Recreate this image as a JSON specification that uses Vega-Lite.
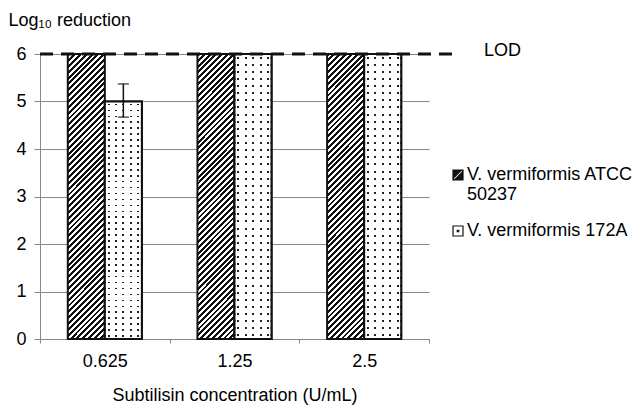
{
  "$schema": "https://vega.github.io/schema/vega-lite/v6.json",
  "width": 389,
  "height": 285,
  "autosize": {"type": "none"},
  "padding": {"left": 40, "top": 54, "right": 205, "bottom": 67},
  "config": {
    "font": "Liberation Sans",
    "view": {"stroke": null},
    "axis": {"labelFontSize": 18, "titleFontSize": 18, "titleFontWeight": "normal", "labelColor": "#000", "titleColor": "#000"}
  },
  "data": {"values": [
    {"conc": "0.625", "strain": "V. vermiformis ATCC 50237", "value": 6},
    {"conc": "0.625", "strain": "V. vermiformis 172A", "value": 5, "lo": 4.67, "hi": 5.37},
    {"conc": "1.25", "strain": "V. vermiformis ATCC 50237", "value": 6},
    {"conc": "1.25", "strain": "V. vermiformis 172A", "value": 6},
    {"conc": "2.5", "strain": "V. vermiformis ATCC 50237", "value": 6},
    {"conc": "2.5", "strain": "V. vermiformis 172A", "value": 6}
  ]},
  "layer": [
    {
      "transform": [{"filter": "datum.strain === 'V. vermiformis ATCC 50237'"}],
      "mark": {"type": "bar", "stroke": "#111", "strokeWidth": 2, "fill": {"gradient": "linear", "x1": 0, "y1": 0, "x2": 0.146, "y2": 1.12, "stops": [
              {"offset":0,"color":"#111"},
              {"offset":0.009,"color":"#111"},{"offset":0.009,"color":"#fff"},
              {"offset":0.018,"color":"#fff"},{"offset":0.018,"color":"#111"},
              {"offset":0.027,"color":"#111"},{"offset":0.027,"color":"#fff"},
              {"offset":0.036,"color":"#fff"},{"offset":0.036,"color":"#111"},
              {"offset":0.045,"color":"#111"},{"offset":0.045,"color":"#fff"},
              {"offset":0.054,"color":"#fff"},{"offset":0.054,"color":"#111"},
              {"offset":0.063,"color":"#111"},{"offset":0.063,"color":"#fff"},
              {"offset":0.072,"color":"#fff"},{"offset":0.072,"color":"#111"},
              {"offset":0.081,"color":"#111"},{"offset":0.081,"color":"#fff"},
              {"offset":0.09,"color":"#fff"},{"offset":0.09,"color":"#111"},
              {"offset":0.099,"color":"#111"},{"offset":0.099,"color":"#fff"},
              {"offset":0.108,"color":"#fff"},{"offset":0.108,"color":"#111"},
              {"offset":0.117,"color":"#111"},{"offset":0.117,"color":"#fff"},
              {"offset":0.126,"color":"#fff"},{"offset":0.126,"color":"#111"},
              {"offset":0.135,"color":"#111"},{"offset":0.135,"color":"#fff"},
              {"offset":0.144,"color":"#fff"},{"offset":0.144,"color":"#111"},
              {"offset":0.153,"color":"#111"},{"offset":0.153,"color":"#fff"},
              {"offset":0.162,"color":"#fff"},{"offset":0.162,"color":"#111"},
              {"offset":0.171,"color":"#111"},{"offset":0.171,"color":"#fff"},
              {"offset":0.18,"color":"#fff"},{"offset":0.18,"color":"#111"},
              {"offset":0.189,"color":"#111"},{"offset":0.189,"color":"#fff"},
              {"offset":0.198,"color":"#fff"},{"offset":0.198,"color":"#111"},
              {"offset":0.207,"color":"#111"},{"offset":0.207,"color":"#fff"},
              {"offset":0.216,"color":"#fff"},{"offset":0.216,"color":"#111"},
              {"offset":0.225,"color":"#111"},{"offset":0.225,"color":"#fff"},
              {"offset":0.234,"color":"#fff"},{"offset":0.234,"color":"#111"},
              {"offset":0.243,"color":"#111"},{"offset":0.243,"color":"#fff"},
              {"offset":0.252,"color":"#fff"},{"offset":0.252,"color":"#111"},
              {"offset":0.261,"color":"#111"},{"offset":0.261,"color":"#fff"},
              {"offset":0.27,"color":"#fff"},{"offset":0.27,"color":"#111"},
              {"offset":0.279,"color":"#111"},{"offset":0.279,"color":"#fff"},
              {"offset":0.288,"color":"#fff"},{"offset":0.288,"color":"#111"},
              {"offset":0.297,"color":"#111"},{"offset":0.297,"color":"#fff"},
              {"offset":0.306,"color":"#fff"},{"offset":0.306,"color":"#111"},
              {"offset":0.315,"color":"#111"},{"offset":0.315,"color":"#fff"},
              {"offset":0.324,"color":"#fff"},{"offset":0.324,"color":"#111"},
              {"offset":0.333,"color":"#111"},{"offset":0.333,"color":"#fff"},
              {"offset":0.342,"color":"#fff"},{"offset":0.342,"color":"#111"},
              {"offset":0.351,"color":"#111"},{"offset":0.351,"color":"#fff"},
              {"offset":0.36,"color":"#fff"},{"offset":0.36,"color":"#111"},
              {"offset":0.369,"color":"#111"},{"offset":0.369,"color":"#fff"},
              {"offset":0.378,"color":"#fff"},{"offset":0.378,"color":"#111"},
              {"offset":0.387,"color":"#111"},{"offset":0.387,"color":"#fff"},
              {"offset":0.396,"color":"#fff"},{"offset":0.396,"color":"#111"},
              {"offset":0.405,"color":"#111"},{"offset":0.405,"color":"#fff"},
              {"offset":0.414,"color":"#fff"},{"offset":0.414,"color":"#111"},
              {"offset":0.423,"color":"#111"},{"offset":0.423,"color":"#fff"},
              {"offset":0.432,"color":"#fff"},{"offset":0.432,"color":"#111"},
              {"offset":0.441,"color":"#111"},{"offset":0.441,"color":"#fff"},
              {"offset":0.45,"color":"#fff"},{"offset":0.45,"color":"#111"},
              {"offset":0.459,"color":"#111"},{"offset":0.459,"color":"#fff"},
              {"offset":0.468,"color":"#fff"},{"offset":0.468,"color":"#111"},
              {"offset":0.477,"color":"#111"},{"offset":0.477,"color":"#fff"},
              {"offset":0.486,"color":"#fff"},{"offset":0.486,"color":"#111"},
              {"offset":0.495,"color":"#111"},{"offset":0.495,"color":"#fff"},
              {"offset":0.504,"color":"#fff"},{"offset":0.504,"color":"#111"},
              {"offset":0.513,"color":"#111"},{"offset":0.513,"color":"#fff"},
              {"offset":0.522,"color":"#fff"},{"offset":0.522,"color":"#111"},
              {"offset":0.531,"color":"#111"},{"offset":0.531,"color":"#fff"},
              {"offset":0.54,"color":"#fff"},{"offset":0.54,"color":"#111"},
              {"offset":0.549,"color":"#111"},{"offset":0.549,"color":"#fff"},
              {"offset":0.558,"color":"#fff"},{"offset":0.558,"color":"#111"},
              {"offset":0.567,"color":"#111"},{"offset":0.567,"color":"#fff"},
              {"offset":0.576,"color":"#fff"},{"offset":0.576,"color":"#111"},
              {"offset":0.585,"color":"#111"},{"offset":0.585,"color":"#fff"},
              {"offset":0.594,"color":"#fff"},{"offset":0.594,"color":"#111"},
              {"offset":0.603,"color":"#111"},{"offset":0.603,"color":"#fff"},
              {"offset":0.612,"color":"#fff"},{"offset":0.612,"color":"#111"},
              {"offset":0.621,"color":"#111"},{"offset":0.621,"color":"#fff"},
              {"offset":0.63,"color":"#fff"},{"offset":0.63,"color":"#111"},
              {"offset":0.639,"color":"#111"},{"offset":0.639,"color":"#fff"},
              {"offset":0.648,"color":"#fff"},{"offset":0.648,"color":"#111"},
              {"offset":0.657,"color":"#111"},{"offset":0.657,"color":"#fff"},
              {"offset":0.666,"color":"#fff"},{"offset":0.666,"color":"#111"},
              {"offset":0.675,"color":"#111"},{"offset":0.675,"color":"#fff"},
              {"offset":0.684,"color":"#fff"},{"offset":0.684,"color":"#111"},
              {"offset":0.693,"color":"#111"},{"offset":0.693,"color":"#fff"},
              {"offset":0.702,"color":"#fff"},{"offset":0.702,"color":"#111"},
              {"offset":0.711,"color":"#111"},{"offset":0.711,"color":"#fff"},
              {"offset":0.72,"color":"#fff"},{"offset":0.72,"color":"#111"},
              {"offset":0.729,"color":"#111"},{"offset":0.729,"color":"#fff"},
              {"offset":0.738,"color":"#fff"},{"offset":0.738,"color":"#111"},
              {"offset":0.747,"color":"#111"},{"offset":0.747,"color":"#fff"},
              {"offset":0.756,"color":"#fff"},{"offset":0.756,"color":"#111"},
              {"offset":0.765,"color":"#111"},{"offset":0.765,"color":"#fff"},
              {"offset":0.774,"color":"#fff"},{"offset":0.774,"color":"#111"},
              {"offset":0.783,"color":"#111"},{"offset":0.783,"color":"#fff"},
              {"offset":0.792,"color":"#fff"},{"offset":0.792,"color":"#111"},
              {"offset":0.801,"color":"#111"},{"offset":0.801,"color":"#fff"},
              {"offset":0.81,"color":"#fff"},{"offset":0.81,"color":"#111"},
              {"offset":0.819,"color":"#111"},{"offset":0.819,"color":"#fff"},
              {"offset":0.828,"color":"#fff"},{"offset":0.828,"color":"#111"},
              {"offset":0.837,"color":"#111"},{"offset":0.837,"color":"#fff"},
              {"offset":0.846,"color":"#fff"},{"offset":0.846,"color":"#111"},
              {"offset":0.855,"color":"#111"},{"offset":0.855,"color":"#fff"},
              {"offset":0.864,"color":"#fff"},{"offset":0.864,"color":"#111"},
              {"offset":0.873,"color":"#111"},{"offset":0.873,"color":"#fff"},
              {"offset":0.882,"color":"#fff"},{"offset":0.882,"color":"#111"},
              {"offset":0.891,"color":"#111"},{"offset":0.891,"color":"#fff"},
              {"offset":0.9,"color":"#fff"},{"offset":0.9,"color":"#111"},
              {"offset":0.909,"color":"#111"},{"offset":0.909,"color":"#fff"},
              {"offset":0.918,"color":"#fff"},{"offset":0.918,"color":"#111"},
              {"offset":0.927,"color":"#111"},{"offset":0.927,"color":"#fff"},
              {"offset":0.936,"color":"#fff"},{"offset":0.936,"color":"#111"},
              {"offset":0.945,"color":"#111"},{"offset":0.945,"color":"#fff"},
              {"offset":0.954,"color":"#fff"},{"offset":0.954,"color":"#111"},
              {"offset":0.963,"color":"#111"},{"offset":0.963,"color":"#fff"},
              {"offset":0.972,"color":"#fff"},{"offset":0.972,"color":"#111"},
              {"offset":0.981,"color":"#111"},{"offset":0.981,"color":"#fff"},
              {"offset":0.99,"color":"#fff"},{"offset":0.99,"color":"#111"},
              {"offset":0.999,"color":"#111"},{"offset":0.999,"color":"#fff"},
              {"offset":1,"color":"#fff"}
            ]}},
      "encoding": {
        "x": {"field": "conc", "type": "nominal", "sort": null, "scale": {"paddingInner": 0, "paddingOuter": 0},
          "axis": {"title": "Subtilisin concentration (U/mL)", "labelAngle": 0, "tickBand": "extent", "domainColor": "#888", "tickColor": "#888", "tickSize": 4, "labelPadding": 9, "titlePadding": 16}},
        "xOffset": {"field": "strain", "type": "nominal", "sort": ["V. vermiformis ATCC 50237", "V. vermiformis 172A"], "scale": {"domain": ["V. vermiformis ATCC 50237", "V. vermiformis 172A"], "paddingInner": 0, "paddingOuter": 0.75}},
        "y": {"field": "value", "type": "quantitative", "scale": {"domain": [0, 6], "nice": false},
          "axis": {"title": "Log₁₀ reduction", "values": [0, 1, 2, 3, 4, 5, 6], "grid": true, "gridColor": "#888", "domainColor": "#888", "tickColor": "#888", "tickSize": 6, "labelPadding": 8, "titleAngle": 0, "titleAlign": "left", "titleBaseline": "middle", "titleX": -32, "titleY": -34}}
      }
    },
    {
      "transform": [{"filter": "datum.strain === 'V. vermiformis 172A'"}],
      "mark": {"type": "bar", "stroke": "#111", "strokeWidth": 2, "fill": {"gradient": "linear", "x1": 0, "y1": 0, "x2": 1, "y2": 0, "stops": [
              {"offset":0,"color":"#fff"},
              {"offset":0.075,"color":"#fff"},{"offset":0.075,"color":"#222"},{"offset":0.13,"color":"#222"},{"offset":0.13,"color":"#fff"},
              {"offset":0.275,"color":"#fff"},{"offset":0.275,"color":"#222"},{"offset":0.33,"color":"#222"},{"offset":0.33,"color":"#fff"},
              {"offset":0.475,"color":"#fff"},{"offset":0.475,"color":"#222"},{"offset":0.53,"color":"#222"},{"offset":0.53,"color":"#fff"},
              {"offset":0.675,"color":"#fff"},{"offset":0.675,"color":"#222"},{"offset":0.73,"color":"#222"},{"offset":0.73,"color":"#fff"},
              {"offset":0.875,"color":"#fff"},{"offset":0.875,"color":"#222"},{"offset":0.93,"color":"#222"},{"offset":0.93,"color":"#fff"},
              {"offset":1,"color":"#fff"}
            ]}},
      "encoding": {
        "x": {"field": "conc", "type": "nominal", "sort": null},
        "xOffset": {"field": "strain", "type": "nominal", "sort": ["V. vermiformis ATCC 50237", "V. vermiformis 172A"]},
        "y": {"field": "value", "type": "quantitative"}
      }
    },
    {
      "transform": [{"filter": "datum.strain === 'V. vermiformis 172A'"}],
      "mark": {"type": "bar", "stroke": "#111", "strokeWidth": 2, "fill": {"gradient": "linear", "x1": 0, "y1": 0, "x2": 0, "y2": 1, "stops": [
        {"offset":0,"color":"#fff"},
        {"offset":0.009,"color":"#fff"},{"offset":0.009,"color":"rgba(255,255,255,0)"},{"offset":0.016,"color":"rgba(255,255,255,0)"},{"offset":0.016,"color":"#fff"},
        {"offset":0.034,"color":"#fff"},{"offset":0.034,"color":"rgba(255,255,255,0)"},{"offset":0.041,"color":"rgba(255,255,255,0)"},{"offset":0.041,"color":"#fff"},
        {"offset":0.059,"color":"#fff"},{"offset":0.059,"color":"rgba(255,255,255,0)"},{"offset":0.066,"color":"rgba(255,255,255,0)"},{"offset":0.066,"color":"#fff"},
        {"offset":0.084,"color":"#fff"},{"offset":0.084,"color":"rgba(255,255,255,0)"},{"offset":0.091,"color":"rgba(255,255,255,0)"},{"offset":0.091,"color":"#fff"},
        {"offset":0.109,"color":"#fff"},{"offset":0.109,"color":"rgba(255,255,255,0)"},{"offset":0.116,"color":"rgba(255,255,255,0)"},{"offset":0.116,"color":"#fff"},
        {"offset":0.134,"color":"#fff"},{"offset":0.134,"color":"rgba(255,255,255,0)"},{"offset":0.141,"color":"rgba(255,255,255,0)"},{"offset":0.141,"color":"#fff"},
        {"offset":0.159,"color":"#fff"},{"offset":0.159,"color":"rgba(255,255,255,0)"},{"offset":0.166,"color":"rgba(255,255,255,0)"},{"offset":0.166,"color":"#fff"},
        {"offset":0.184,"color":"#fff"},{"offset":0.184,"color":"rgba(255,255,255,0)"},{"offset":0.191,"color":"rgba(255,255,255,0)"},{"offset":0.191,"color":"#fff"},
        {"offset":0.209,"color":"#fff"},{"offset":0.209,"color":"rgba(255,255,255,0)"},{"offset":0.216,"color":"rgba(255,255,255,0)"},{"offset":0.216,"color":"#fff"},
        {"offset":0.234,"color":"#fff"},{"offset":0.234,"color":"rgba(255,255,255,0)"},{"offset":0.241,"color":"rgba(255,255,255,0)"},{"offset":0.241,"color":"#fff"},
        {"offset":0.259,"color":"#fff"},{"offset":0.259,"color":"rgba(255,255,255,0)"},{"offset":0.266,"color":"rgba(255,255,255,0)"},{"offset":0.266,"color":"#fff"},
        {"offset":0.284,"color":"#fff"},{"offset":0.284,"color":"rgba(255,255,255,0)"},{"offset":0.291,"color":"rgba(255,255,255,0)"},{"offset":0.291,"color":"#fff"},
        {"offset":0.309,"color":"#fff"},{"offset":0.309,"color":"rgba(255,255,255,0)"},{"offset":0.316,"color":"rgba(255,255,255,0)"},{"offset":0.316,"color":"#fff"},
        {"offset":0.334,"color":"#fff"},{"offset":0.334,"color":"rgba(255,255,255,0)"},{"offset":0.341,"color":"rgba(255,255,255,0)"},{"offset":0.341,"color":"#fff"},
        {"offset":0.359,"color":"#fff"},{"offset":0.359,"color":"rgba(255,255,255,0)"},{"offset":0.366,"color":"rgba(255,255,255,0)"},{"offset":0.366,"color":"#fff"},
        {"offset":0.384,"color":"#fff"},{"offset":0.384,"color":"rgba(255,255,255,0)"},{"offset":0.391,"color":"rgba(255,255,255,0)"},{"offset":0.391,"color":"#fff"},
        {"offset":0.409,"color":"#fff"},{"offset":0.409,"color":"rgba(255,255,255,0)"},{"offset":0.416,"color":"rgba(255,255,255,0)"},{"offset":0.416,"color":"#fff"},
        {"offset":0.434,"color":"#fff"},{"offset":0.434,"color":"rgba(255,255,255,0)"},{"offset":0.441,"color":"rgba(255,255,255,0)"},{"offset":0.441,"color":"#fff"},
        {"offset":0.459,"color":"#fff"},{"offset":0.459,"color":"rgba(255,255,255,0)"},{"offset":0.466,"color":"rgba(255,255,255,0)"},{"offset":0.466,"color":"#fff"},
        {"offset":0.484,"color":"#fff"},{"offset":0.484,"color":"rgba(255,255,255,0)"},{"offset":0.491,"color":"rgba(255,255,255,0)"},{"offset":0.491,"color":"#fff"},
        {"offset":0.509,"color":"#fff"},{"offset":0.509,"color":"rgba(255,255,255,0)"},{"offset":0.516,"color":"rgba(255,255,255,0)"},{"offset":0.516,"color":"#fff"},
        {"offset":0.534,"color":"#fff"},{"offset":0.534,"color":"rgba(255,255,255,0)"},{"offset":0.541,"color":"rgba(255,255,255,0)"},{"offset":0.541,"color":"#fff"},
        {"offset":0.559,"color":"#fff"},{"offset":0.559,"color":"rgba(255,255,255,0)"},{"offset":0.566,"color":"rgba(255,255,255,0)"},{"offset":0.566,"color":"#fff"},
        {"offset":0.584,"color":"#fff"},{"offset":0.584,"color":"rgba(255,255,255,0)"},{"offset":0.591,"color":"rgba(255,255,255,0)"},{"offset":0.591,"color":"#fff"},
        {"offset":0.609,"color":"#fff"},{"offset":0.609,"color":"rgba(255,255,255,0)"},{"offset":0.616,"color":"rgba(255,255,255,0)"},{"offset":0.616,"color":"#fff"},
        {"offset":0.634,"color":"#fff"},{"offset":0.634,"color":"rgba(255,255,255,0)"},{"offset":0.641,"color":"rgba(255,255,255,0)"},{"offset":0.641,"color":"#fff"},
        {"offset":0.659,"color":"#fff"},{"offset":0.659,"color":"rgba(255,255,255,0)"},{"offset":0.666,"color":"rgba(255,255,255,0)"},{"offset":0.666,"color":"#fff"},
        {"offset":0.684,"color":"#fff"},{"offset":0.684,"color":"rgba(255,255,255,0)"},{"offset":0.691,"color":"rgba(255,255,255,0)"},{"offset":0.691,"color":"#fff"},
        {"offset":0.709,"color":"#fff"},{"offset":0.709,"color":"rgba(255,255,255,0)"},{"offset":0.716,"color":"rgba(255,255,255,0)"},{"offset":0.716,"color":"#fff"},
        {"offset":0.734,"color":"#fff"},{"offset":0.734,"color":"rgba(255,255,255,0)"},{"offset":0.741,"color":"rgba(255,255,255,0)"},{"offset":0.741,"color":"#fff"},
        {"offset":0.759,"color":"#fff"},{"offset":0.759,"color":"rgba(255,255,255,0)"},{"offset":0.766,"color":"rgba(255,255,255,0)"},{"offset":0.766,"color":"#fff"},
        {"offset":0.784,"color":"#fff"},{"offset":0.784,"color":"rgba(255,255,255,0)"},{"offset":0.791,"color":"rgba(255,255,255,0)"},{"offset":0.791,"color":"#fff"},
        {"offset":0.809,"color":"#fff"},{"offset":0.809,"color":"rgba(255,255,255,0)"},{"offset":0.816,"color":"rgba(255,255,255,0)"},{"offset":0.816,"color":"#fff"},
        {"offset":0.834,"color":"#fff"},{"offset":0.834,"color":"rgba(255,255,255,0)"},{"offset":0.841,"color":"rgba(255,255,255,0)"},{"offset":0.841,"color":"#fff"},
        {"offset":0.859,"color":"#fff"},{"offset":0.859,"color":"rgba(255,255,255,0)"},{"offset":0.866,"color":"rgba(255,255,255,0)"},{"offset":0.866,"color":"#fff"},
        {"offset":0.884,"color":"#fff"},{"offset":0.884,"color":"rgba(255,255,255,0)"},{"offset":0.891,"color":"rgba(255,255,255,0)"},{"offset":0.891,"color":"#fff"},
        {"offset":0.909,"color":"#fff"},{"offset":0.909,"color":"rgba(255,255,255,0)"},{"offset":0.916,"color":"rgba(255,255,255,0)"},{"offset":0.916,"color":"#fff"},
        {"offset":0.934,"color":"#fff"},{"offset":0.934,"color":"rgba(255,255,255,0)"},{"offset":0.941,"color":"rgba(255,255,255,0)"},{"offset":0.941,"color":"#fff"},
        {"offset":0.959,"color":"#fff"},{"offset":0.959,"color":"rgba(255,255,255,0)"},{"offset":0.966,"color":"rgba(255,255,255,0)"},{"offset":0.966,"color":"#fff"},
        {"offset":0.984,"color":"#fff"},{"offset":0.984,"color":"rgba(255,255,255,0)"},{"offset":0.991,"color":"rgba(255,255,255,0)"},{"offset":0.991,"color":"#fff"},
        {"offset":1,"color":"#fff"}
      ]}},
      "encoding": {
        "x": {"field": "conc", "type": "nominal", "sort": null},
        "xOffset": {"field": "strain", "type": "nominal", "sort": ["V. vermiformis ATCC 50237", "V. vermiformis 172A"]},
        "y": {"field": "value", "type": "quantitative"}
      }
    },
    {
      "mark": {"type": "point", "filled": true, "opacity": 0, "strokeWidth": 1.2},
      "encoding": {
        "x": {"field": "conc", "type": "nominal", "sort": null},
        "xOffset": {"field": "strain", "type": "nominal", "sort": ["V. vermiformis ATCC 50237", "V. vermiformis 172A"]},
        "y": {"field": "value", "type": "quantitative"},
        "fill": {"field": "strain", "type": "nominal",
          "scale": {"domain": ["V. vermiformis ATCC 50237", "V. vermiformis 172A"], "range": ["#111", "#fff"]},
          "legend": {"title": null, "orient": "none", "legendX": 409, "legendY": 112, "symbolSize": 100,
            "symbolStrokeWidth": 1.2, "symbolOpacity": 1, "labelFontSize": 18, "labelColor": "#000",
            "labelOffset": 0, "rowPadding": 18, "labelLimit": 300, "labelBaseline": "middle", "labelLineHeight": 20,
            "labelExpr": "datum.label === 'V. vermiformis ATCC 50237' ? ['V. vermiformis ATCC', '50237'] : datum.label"}},
        "stroke": {"field": "strain", "type": "nominal",
          "scale": {"domain": ["V. vermiformis ATCC 50237", "V. vermiformis 172A"], "range": ["#111", "#111"]},
          "legend": {"title": null, "orient": "none", "legendX": 409, "legendY": 112, "symbolSize": 100,
            "symbolStrokeWidth": 1.2, "symbolOpacity": 1, "labelFontSize": 18, "labelColor": "#000",
            "labelOffset": 0, "rowPadding": 18, "labelLimit": 300, "labelBaseline": "middle", "labelLineHeight": 20,
            "labelExpr": "datum.label === 'V. vermiformis ATCC 50237' ? ['V. vermiformis ATCC', '50237'] : datum.label"}},
        "shape": {"field": "strain", "type": "nominal",
          "scale": {"domain": ["V. vermiformis ATCC 50237", "V. vermiformis 172A"], "range": [
            "M-1,-1H1V1H-1Z M-1,0.7L-0.7,1L1,-0.7L0.7,-1Z",
            "M-1,-1H1V1H-1Z M-0.15,-0.15H0.15V0.15H-0.15Z"]},
          "legend": {"title": null, "orient": "none", "legendX": 409, "legendY": 112, "symbolSize": 100,
            "symbolStrokeWidth": 1.2, "symbolOpacity": 1, "labelFontSize": 18, "labelColor": "#000",
            "labelOffset": 0, "rowPadding": 18, "labelLimit": 300, "labelBaseline": "middle", "labelLineHeight": 20,
            "labelExpr": "datum.label === 'V. vermiformis ATCC 50237' ? ['V. vermiformis ATCC', '50237'] : datum.label"}}
      }
    },
    {
      "transform": [{"filter": "isValid(datum.lo)"}],
      "mark": {"type": "rule", "stroke": "#111", "strokeWidth": 1.5},
      "encoding": {
        "x": {"field": "conc", "type": "nominal", "sort": null},
        "xOffset": {"field": "strain", "type": "nominal", "sort": ["V. vermiformis ATCC 50237", "V. vermiformis 172A"]},
        "y": {"field": "lo", "type": "quantitative"},
        "y2": {"field": "hi"}
      }
    },
    {
      "transform": [{"filter": "isValid(datum.lo)"}],
      "mark": {"type": "tick", "color": "#111", "size": 11, "thickness": 1.5},
      "encoding": {
        "x": {"field": "conc", "type": "nominal", "sort": null},
        "xOffset": {"field": "strain", "type": "nominal", "sort": ["V. vermiformis ATCC 50237", "V. vermiformis 172A"]},
        "y": {"field": "lo", "type": "quantitative"}
      }
    },
    {
      "transform": [{"filter": "isValid(datum.hi)"}],
      "mark": {"type": "tick", "color": "#111", "size": 11, "thickness": 1.5},
      "encoding": {
        "x": {"field": "conc", "type": "nominal", "sort": null},
        "xOffset": {"field": "strain", "type": "nominal", "sort": ["V. vermiformis ATCC 50237", "V. vermiformis 172A"]},
        "y": {"field": "hi", "type": "quantitative"}
      }
    },
    {
      "data": {"values": [{"lod": 6, "label": "LOD"}]},
      "mark": {"type": "rule", "stroke": "#111", "strokeWidth": 3, "strokeDash": [13, 8], "x": 0, "x2": {"expr": "width + 28"}},
      "encoding": {"y": {"field": "lod", "type": "quantitative"}}
    },
    {
      "data": {"values": [{"lod": 6, "label": "LOD"}]},
      "mark": {"type": "text", "align": "left", "baseline": "middle", "x": {"expr": "width + 55"}, "dy": -3, "fontSize": 18, "color": "#000"},
      "encoding": {"y": {"field": "lod", "type": "quantitative"}, "text": {"field": "label"}}
    }
  ]
}
